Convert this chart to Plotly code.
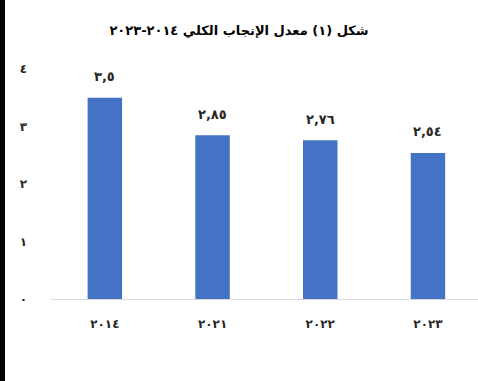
import plotly.graph_objects as go

categories = ["٢٠١٤", "٢٠٢١", "٢٠٢٢", "٢٠٢٣"]
values = [3.5, 2.85, 2.76, 2.54]
value_labels = ["٣,٥", "٢,٨٥", "٢,٧٦", "٢,٥٤"]
y_ticks = [0, 1, 2, 3, 4]
y_tick_labels = ["٠", "١", "٢", "٣", "٤"]
title_text = "شكل (١) معدل الإنجاب الكلي ٢٠١٤-٢٠٢٣"

FONT = "DejaVu Sans"
W, H = 478, 381
ML, MT, MB = 51, 69, 82

def b(s):
    return "<b>" + s + "</b>"

fig = go.Figure()
fig.add_trace(go.Bar(
    x=list(range(len(categories))), y=values,
    marker=dict(color="#4472C4", line=dict(width=0)),
    width=0.32, hoverinfo="skip",
))

for i, (v, t) in enumerate(zip(values, value_labels)):
    fig.add_annotation(x=i, y=v, text=b(t), showarrow=False, yanchor="middle",
                       yshift=21, font=dict(family=FONT, size=13, color="#262626"))

fig.update_layout(
    width=W, height=H,
    margin=dict(l=ML, r=0, t=MT, b=MB, pad=0),
    paper_bgcolor="white", plot_bgcolor="white",
    showlegend=False,
    title=dict(text=b(title_text), x=0.5, xanchor="center",
               xref="container", yref="container", y=1 - 30 / H, yanchor="middle",
               font=dict(family=FONT, size=13, color="#000000")),
    xaxis=dict(tickvals=list(range(len(categories))), ticktext=[b(c) for c in categories],
               range=[-0.5, -0.5 + (W - ML) / 107.7],
               showline=True, linecolor="#D9D9D9", linewidth=1,
               showgrid=False, zeroline=False, ticks="",
               ticklabelstandoff=14,
               tickfont=dict(family=FONT, size=12, color="#262626")),
    yaxis=dict(range=[0, 4], tickvals=y_ticks, ticktext=[b(t) for t in y_tick_labels],
               showgrid=False, zeroline=False, showline=False, ticks="",
               ticklabelstandoff=23,
               tickfont=dict(family=FONT, size=12, color="#262626")),
    shapes=[dict(type="rect", xref="paper", yref="paper",
                 xsizemode="pixel", xanchor=0, x0=-ML, x1=-ML + 5,
                 y0=-2, y1=3, fillcolor="black", line=dict(width=0), layer="above")],
)

fig.write_html("out.html")
